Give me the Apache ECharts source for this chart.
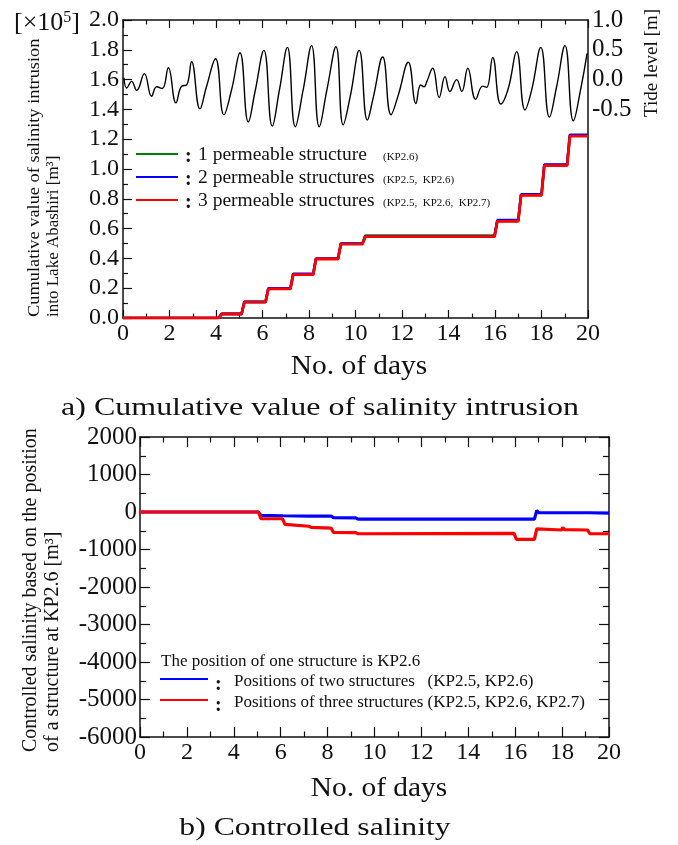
<!DOCTYPE html>
<html>
<head>
<meta charset="utf-8">
<script src="https://cdn.jsdelivr.net/npm/echarts@6/dist/echarts.min.js"></script>
<style>
  html, body { margin: 0; padding: 0; background: #ffffff; }
  #chart { width: 678px; height: 845px; }
</style>
</head>
<body>
<div id="chart"></div>
<script>
// ---- a) tide level [m] at Abashiri (peaks, troughs and shoulders) ----
const tideDays = [0.04, 0.16, 0.37, 0.59, 0.92, 1.23, 1.45, 1.69, 1.95, 2.28, 2.52, 2.74, 2.95, 3.31, 3.59,
  3.98, 4.34, 4.67, 5.03, 5.39, 5.68, 6.06, 6.42, 6.73, 7.07, 7.41, 7.75, 8.11, 8.44, 8.78, 9.16, 9.47,
  9.77, 10.16, 10.51, 10.77, 11.17, 11.53, 11.84, 12.27, 12.60, 12.80, 12.95, 13.06, 13.32, 13.60, 13.85,
  14.06, 14.35, 14.57, 14.83, 15.17, 15.47, 15.64, 15.90, 16.25, 16.57, 16.93, 17.29, 17.58, 17.97,
  18.34, 18.65, 19.01, 19.37, 19.69, 19.96];
const tideLevel = [0.03, -0.14, -0.03, -0.18, 0.10, -0.28, -0.12, -0.15, 0.20, -0.39, -0.11, -0.09, 0.30, -0.49, -0.12,
  0.35, -0.59, -0.17, 0.45, -0.71, -0.20, 0.49, -0.78, -0.17, 0.54, -0.79, -0.17, 0.57, -0.79, -0.15, 0.55, -0.76,
  -0.29, 0.49, -0.68, -0.29, 0.38, -0.59, -0.26, 0.29, -0.40, -0.09, -0.12, -0.04, 0.19, -0.30, 0.05,
  -0.20, 0.00, -0.20, 0.19, -0.33, -0.11, -0.13, 0.37, -0.41, -0.15, 0.47, -0.51, -0.17, 0.54,
  -0.63, -0.12, 0.57, -0.69, -0.15, 0.44];

// ---- a) cumulative salinity intrusion [x10^5 m^3]: day each step begins, level after it ----
const stepDays = [4.12, 5.10, 6.13, 7.20, 8.18, 9.25, 10.30, 15.98, 17.00, 18.00, 19.10];
const oneStructure = [0.028, 0.108, 0.197, 0.294, 0.398, 0.500, 0.553, 0.652, 0.826, 1.026, 1.224];
const twoStructures = [0.028, 0.108, 0.200, 0.296, 0.399, 0.499, 0.549, 0.657, 0.830, 1.030, 1.230];
const threeStructures = [0.027, 0.106, 0.195, 0.291, 0.396, 0.496, 0.546, 0.649, 0.823, 1.023, 1.220];

// ---- b) controlled salinity relative to KP2.6 [m^3] ----
const diffDaysTwo = [0, 5.05, 5.15, 6.10, 7.20, 7.28, 7.36, 8.15, 8.25, 9.20, 9.30, 15.95, 16.00, 16.05, 16.82,
  16.92, 17.00, 17.98, 18.03, 18.10, 19.02, 19.08, 19.15, 20];
const diffTwo = [0, 0, -90, -100, -110, -85, -110, -110, -150, -155, -190, -190, -160, -190, -190,
  40, -20, -20, 30, -20, -20, 10, -20, -30];
const diffDaysThree = [0, 5.05, 5.15, 6.08, 6.18, 7.20, 7.30, 8.15, 8.25, 9.20, 9.30, 15.95, 16.05, 16.82,
  16.92, 17.98, 18.03, 18.10, 19.08, 19.18, 20];
const diffThree = [0, 0, -175, -180, -330, -380, -410, -430, -545, -550, -580, -570, -730, -730,
  -450, -480, -410, -470, -480, -575, -580];

const FONT = 'Liberation Serif';
const RAMP = 0.12;

function stepLine(levels) {
  const pts = [[0, 0]];
  let prev = 0;
  stepDays.forEach((d, i) => {
    pts.push([d, prev]);
    pts.push([d + RAMP, levels[i]]);
    prev = levels[i];
  });
  pts.push([20, prev]);
  return pts;
}
const zip = (xs, ys) => xs.map((x, i) => [x, ys[i]]);

const axisLine = { show: true, onZero: false, lineStyle: { color: '#111', width: 1.5 } };
const labelStyle = { color: '#111', fontFamily: FONT, fontSize: 24 };

function xAxis(grid, pos, labels, tickLen) {
  return {
    type: 'value', gridIndex: grid, position: pos, min: 0, max: 20, interval: 2,
    axisLine: axisLine,
    axisTick: { show: true, inside: true, length: tickLen, lineStyle: { color: '#111', width: 1.2 } },
    minorTick: { show: true, splitNumber: 2, length: tickLen * 0.55, lineStyle: { color: '#111', width: 1.2 } },
    axisLabel: labels ? Object.assign({ margin: 4 }, labelStyle) : { show: false },
    splitLine: { show: false }
  };
}

const option = {
  animation: false,
  backgroundColor: '#ffffff',
  grid: [
    { left: 123, top: 20, width: 465, height: 298 },
    { left: 140, top: 437, width: 469, height: 300 }
  ],
  xAxis: [
    xAxis(0, 'bottom', true, 8),
    xAxis(0, 'top', false, 8),
    xAxis(1, 'bottom', true, 10),
    xAxis(1, 'top', false, 10)
  ],
  yAxis: [
    {
      type: 'value', gridIndex: 0, position: 'left', min: 0, max: 2, interval: 0.2,
      axisLine: axisLine,
      axisTick: { show: true, inside: true, length: 9, lineStyle: { color: '#111', width: 1.2 } },
      minorTick: { show: true, splitNumber: 2, length: 5, lineStyle: { color: '#111', width: 1.2 } },
      axisLabel: Object.assign({ margin: 4, formatter: v => v.toFixed(1) }, labelStyle),
      splitLine: { show: false }
    },
    {
      type: 'value', gridIndex: 0, position: 'right', min: -4, max: 1, interval: 0.5,
      axisLine: axisLine,
      axisTick: { show: false },
      axisLabel: Object.assign({}, labelStyle, { fontSize: 25, margin: 4,
        formatter: v => (v >= -0.5 ? v.toFixed(1) : '') }),
      splitLine: { show: false }
    },
    {
      type: 'value', gridIndex: 1, position: 'left', min: -6000, max: 2000, interval: 1000,
      axisLine: axisLine,
      axisTick: { show: true, inside: true, length: 10, lineStyle: { color: '#111', width: 1.2 } },
      minorTick: { show: true, splitNumber: 2, length: 6, lineStyle: { color: '#111', width: 1.2 } },
      axisLabel: Object.assign({ margin: 3, formatter: v => String(v) }, labelStyle, { fontSize: 25 }),
      splitLine: { show: false }
    },
    {
      type: 'value', gridIndex: 1, position: 'right', min: -6000, max: 2000, interval: 1000,
      axisLine: axisLine,
      axisTick: { show: true, inside: true, length: 10, lineStyle: { color: '#111', width: 1.2 } },
      minorTick: { show: true, splitNumber: 2, length: 6, lineStyle: { color: '#111', width: 1.2 } },
      axisLabel: { show: false },
      splitLine: { show: false }
    }
  ],
  series: [
    { name: 'Tide level', type: 'line', xAxisIndex: 0, yAxisIndex: 1, data: zip(tideDays, tideLevel),
      smooth: 0.45, showSymbol: false, lineStyle: { color: '#000', width: 1.4 } },
    { name: '1 permeable structure', type: 'line', xAxisIndex: 0, yAxisIndex: 0, data: stepLine(oneStructure),
      showSymbol: false, lineStyle: { color: '#008000', width: 2.6 } },
    { name: '2 permeable structures', type: 'line', xAxisIndex: 0, yAxisIndex: 0, data: stepLine(twoStructures),
      showSymbol: false, lineStyle: { color: '#0000ff', width: 2.6 } },
    { name: '3 permeable structures', type: 'line', xAxisIndex: 0, yAxisIndex: 0, data: stepLine(threeStructures),
      showSymbol: false, lineStyle: { color: '#ff0000', width: 2.8 } },
    { name: 'Positions of two structures', type: 'line', xAxisIndex: 2, yAxisIndex: 2, data: zip(diffDaysTwo, diffTwo),
      showSymbol: false, lineStyle: { color: '#0000ff', width: 3.2 } },
    { name: 'Positions of three structures', type: 'line', xAxisIndex: 2, yAxisIndex: 2, data: zip(diffDaysThree, diffThree),
      showSymbol: false, lineStyle: { color: '#ff0000', width: 3.2 } }
  ],
  graphic: []
};

// ---- text and legend decorations ----
function txt(x, y, text, size, opts) {
  opts = opts || {};
  return {
    type: 'text', x: x, y: y, rotation: opts.rot || 0, scaleX: opts.sx || 1,
    style: { text: text, fontFamily: FONT, fontSize: size, fill: '#111',
      fontWeight: opts.bold ? 'bold' : 'normal',
      align: opts.align || 'left', verticalAlign: opts.valign || 'middle' },
    z: 100
  };
}
function seg(x1, x2, y, color) {
  return { type: 'line', shape: { x1: x1, y1: y, x2: x2, y2: y }, style: { stroke: color, lineWidth: 1.8 }, z: 100 };
}
const V = Math.PI / 2;
const g = option.graphic;

// unit marker
g.push({ type: 'text', x: 14, y: 10, z: 100,
  style: { text: '{a|[×10}{s|5}{a|]}', rich: {
    a: { fontFamily: FONT, fontSize: 26, fill: '#111', verticalAlign: 'bottom' },
    s: { fontFamily: FONT, fontSize: 16, fill: '#111', verticalAlign: 'top' } } } });

// axis names
g.push(txt(35, 317, 'Cumulative value of salinity intrusion', 17, { rot: V, sx: 1.08 }));
g.push(txt(54, 317, 'into Lake Abashiri [m³]', 17, { rot: V }));
g.push(txt(652, 117, 'Tide level [m]', 19, { rot: V }));
g.push(txt(359, 367, 'No. of days', 28, { align: 'center', sx: 1.05 }));
g.push(txt(320, 408, 'a) Cumulative value of salinity intrusion', 26, { align: 'center', sx: 1.23 }));

g.push(txt(31, 752, 'Controlled salinity based on the position', 20, { rot: V }));
g.push(txt(53, 752, 'of a structure at KP2.6 [m³]', 20, { rot: V }));
g.push(txt(379, 789, 'No. of days', 28, { align: 'center', sx: 1.05 }));
g.push(txt(315, 828, 'b) Controlled salinity', 26, { align: 'center', sx: 1.22 }));

// legend of a)
const legA = [
  ['#008000', '1 permeable structure', '(KP2.6)'],
  ['#0000ff', '2 permeable structures', '(KP2.5,  KP2.6)'],
  ['#ff0000', '3 permeable structures', '(KP2.5,  KP2.6,  KP2.7)']
];
const legAY = [155, 178, 201];
legA.forEach((item, i) => {
  const y = legAY[i];
  g.push(seg(136, 178, y - 1, item[0]));
  g.push(txt(185, y + 2, ':', 20, { bold: true }));
  g.push(txt(198, y, item[1], 19.5));
  g.push(txt(383, y + 2, item[2], 11));
});

// legend of b)
g.push(txt(161, 662, 'The position of one structure is KP2.6', 17));
const legB = [
  ['#0000ff', 'Positions of two structures   (KP2.5, KP2.6)'],
  ['#ff0000', 'Positions of three structures (KP2.5, KP2.6, KP2.7)']
];
const legBY = [682, 703];
legB.forEach((item, i) => {
  const y = legBY[i];
  g.push(seg(160, 208, y - 3, item[0]));
  g.push(txt(215, y + 3, ':', 20, { bold: true }));
  g.push(txt(234, y, item[1], 17));
});

const chart = echarts.init(document.getElementById('chart'), null, { renderer: 'canvas' });
chart.setOption(option);
</script>
</body>
</html>
